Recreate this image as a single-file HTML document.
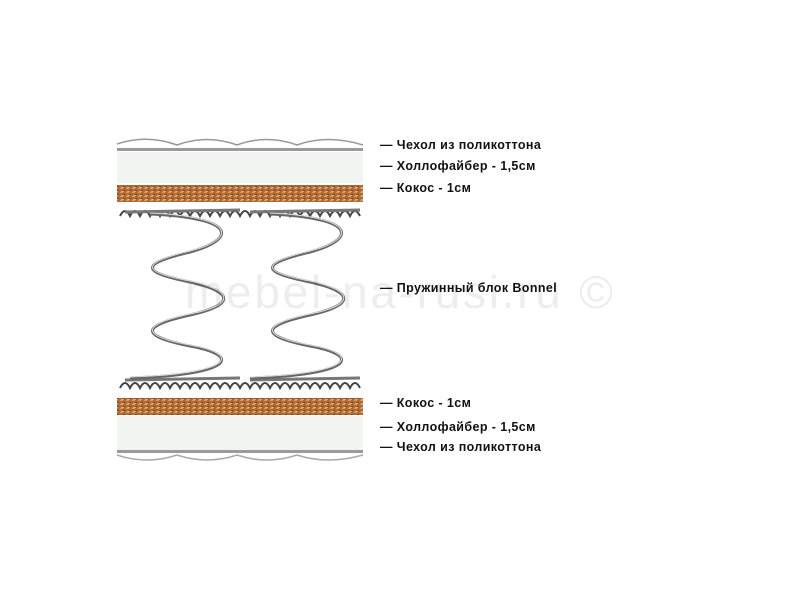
<!DOCTYPE html>
<html><head><meta charset="utf-8"><style>
body{margin:0;background:#fff;width:800px;height:600px;position:relative;overflow:hidden;font-family:"Liberation Sans",sans-serif}
.l{position:absolute;left:380px;font-size:12.5px;font-weight:bold;color:#111;white-space:nowrap;letter-spacing:0.4px}
</style></head><body>
<svg width="800" height="600" style="position:absolute;left:0;top:0">
<defs>
<pattern id="coco" width="6" height="4" patternUnits="userSpaceOnUse">
<rect width="6" height="4" fill="#b06a35"/><rect x="0" y="0" width="3" height="1" fill="#d79a5c"/><rect x="3" y="2" width="2" height="1" fill="#7a4420"/><rect x="1" y="3" width="3" height="1" fill="#e0ab70"/>
</pattern>
</defs>
<path d="M117 144 Q147 134 177 145 Q207 134 237 145 Q267 134 297 145 Q327 134 363 145" stroke="#999" stroke-width="1.5" fill="none"/>
<rect x="117" y="148" width="246" height="3" fill="#9a9a9a"/>
<rect x="117" y="152" width="246" height="31" fill="#f2f4f2"/>
<rect x="117" y="185" width="246" height="17" fill="url(#coco)"/>
<rect x="117" y="398" width="246" height="17" fill="url(#coco)"/>
<rect x="117" y="416" width="246" height="35" fill="#f2f4f2"/>
<rect x="117" y="450" width="246" height="3" fill="#9a9a9a"/>
<path d="M117 455 Q147 465 177 455 Q207 465 237 455 Q267 465 297 455 Q327 465 363 455" stroke="#aaa" stroke-width="1.5" fill="none"/>
<g stroke="#444" stroke-width="2" fill="none">
<path d="M120 216 q5 -10 10 0 q5 -10 10 0 q5 -10 10 0 q5 -10 10 0 q5 -10 10 0 q5 -10 10 0 q5 -10 10 0 q5 -10 10 0 q5 -10 10 0 q5 -10 10 0 q5 -10 10 0 q5 -10 10 0 q5 -10 10 0 q5 -10 10 0 q5 -10 10 0 q5 -10 10 0 q5 -10 10 0 q5 -10 10 0 q5 -10 10 0 q5 -10 10 0 q5 -10 10 0 q5 -10 10 0 q5 -10 10 0 q5 -10 10 0"/>
<path d="M120 388 q5 -10 10 0 q5 -10 10 0 q5 -10 10 0 q5 -10 10 0 q5 -10 10 0 q5 -10 10 0 q5 -10 10 0 q5 -10 10 0 q5 -10 10 0 q5 -10 10 0 q5 -10 10 0 q5 -10 10 0 q5 -10 10 0 q5 -10 10 0 q5 -10 10 0 q5 -10 10 0 q5 -10 10 0 q5 -10 10 0 q5 -10 10 0 q5 -10 10 0 q5 -10 10 0 q5 -10 10 0 q5 -10 10 0 q5 -10 10 0"/>
</g>
<g stroke="#777" stroke-width="3" fill="none">
<path d="M125 212 L240 210 M250 212 L360 210 M125 380 L240 378 M250 380 L360 378"/>
</g>
<g stroke="#666" stroke-width="3" fill="none">
<path d="M150 214 C240 218 235 240 190 252 C140 264 140 272 190 282 C235 292 235 305 190 315 C140 326 140 336 190 346 C245 356 230 375 130 378"/>
<path d="M270 214 C360 218 355 240 310 252 C260 264 260 272 310 282 C355 292 355 305 310 315 C260 326 260 336 310 346 C365 356 350 375 250 378"/>
</g>
<g stroke="#ddd" stroke-width="1" fill="none">
<path d="M150 213 C240 217 235 240 190 251 C140 263 140 272 190 281 C235 291 235 305 190 314 C140 325 140 336 190 345 C245 355 230 374 130 377"/>
<path d="M270 213 C360 217 355 240 310 251 C260 263 260 272 310 281 C355 291 355 305 310 314 C260 325 260 336 310 345 C365 355 350 374 250 377"/>
</g>
<text x="185" y="308" font-family="Liberation Sans" font-size="46" fill="#000" fill-opacity="0.07" textLength="428">mebel-na-rusi.ru ©</text>
</svg>
<div class="l" style="top:138px">— Чехол из поликоттона</div>
<div class="l" style="top:159px">— Холлофайбер - 1,5см</div>
<div class="l" style="top:181px">— Кокос - 1см</div>
<div class="l" style="top:281px">— Пружинный блок Bonnel</div>
<div class="l" style="top:396px">— Кокос - 1см</div>
<div class="l" style="top:420px">— Холлофайбер - 1,5см</div>
<div class="l" style="top:440px">— Чехол из поликоттона</div>
</body></html>
